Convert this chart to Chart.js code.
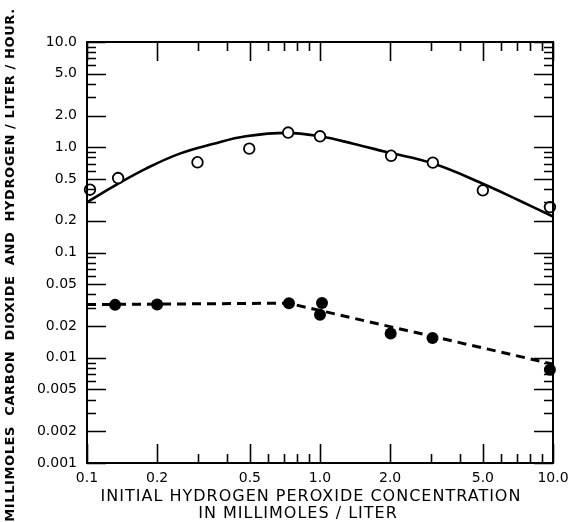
<!DOCTYPE html>
<html>
<head>
<meta charset="utf-8">
<script src="https://cdn.jsdelivr.net/npm/chart.js@4/dist/chart.umd.min.js"></script>
<style>
  html, body { margin: 0; padding: 0; background: #fff; }
  #wrap { width: 570px; height: 522px; position: relative; }
</style>
</head>
<body>
<div id="wrap"><canvas id="c" width="570" height="522"></canvas></div>
<script>
// ---- data ----
const xTickValues = [0.1, 0.2, 0.5, 1.0, 2.0, 5.0, 10.0];
const xTickLabels = ['0.1', '0.2', '0.5', '1.0', '2.0', '5.0', '10.0'];
const yTickValues = [0.001, 0.002, 0.005, 0.01, 0.02, 0.05, 0.1, 0.2, 0.5, 1.0, 2.0, 5.0, 10.0];
const yTickLabels = ['0.001', '0.002', '0.005', '0.01', '0.02', '0.05', '0.1', '0.2', '0.5', '1.0', '2.0', '5.0', '10.0'];

// open circles
const openX = [0.103, 0.136, 0.298, 0.497, 0.73, 1.0, 2.02, 3.05, 5.0, 9.7];
const openY = [0.395, 0.51, 0.72, 0.97, 1.38, 1.27, 0.83, 0.715, 0.39, 0.27];
// solid fitted curve
const curveX = [0.1, 0.13, 0.18, 0.25, 0.35, 0.48, 0.72, 1.0, 1.39, 1.93, 3.06, 5.0, 7.2, 10.0];
const curveY = [0.30, 0.425, 0.63, 0.87, 1.08, 1.27, 1.37, 1.27, 1.08, 0.90, 0.70, 0.45, 0.31, 0.22];
// filled circles
const filledX = [0.132, 0.20, 0.736, 1.02, 1.0, 2.01, 3.04, 9.7];
const filledY = [0.0318, 0.032, 0.0329, 0.0332, 0.0256, 0.0170, 0.0154, 0.0077];
// dashed line
const dashX = [0.1, 0.73, 10.0];
const dashY = [0.032, 0.033, 0.0087];

const xTitleLines = ['INITIAL HYDROGEN PEROXIDE CONCENTRATION', 'IN MILLIMOLES / LITER'];
const yTitle = 'MILLIMOLES  CARBON  DIOXIDE  AND  HYDROGEN / LITER / HOUR.';

// ---- helpers ----
function pts(xs, ys) { return xs.map((x, i) => ({ x: x, y: ys[i] })); }
function logMinor(min, max) {
  const out = [];
  for (let e = Math.round(Math.log10(min)); e < Math.round(Math.log10(max)); e++) {
    for (const m of [1, 2, 3, 4, 5, 6, 7, 8, 9]) out.push({ v: m * Math.pow(10, e), major: (m === 1 || m === 2 || m === 5) });
  }
  out.push({ v: max, major: true });
  return out;
}

const frame = {
  id: 'frame',
  afterDatasetsDraw(chart) {
    const { ctx, chartArea: a, scales } = chart;
    ctx.save();
    ctx.strokeStyle = '#000';
    ctx.lineWidth = 2;
    ctx.strokeRect(a.left, a.top, a.right - a.left, a.bottom - a.top);
    ctx.lineWidth = 1.6;
    ctx.beginPath();
    for (const t of logMinor(0.001, 10)) {
      const y = Math.round(scales.y.getPixelForValue(t.v)) + 0.5;
      const len = t.major ? 19 : 9;
      ctx.moveTo(a.left, y); ctx.lineTo(a.left + len, y);
      ctx.moveTo(a.right, y); ctx.lineTo(a.right - len, y);
    }
    for (const t of logMinor(0.1, 10)) {
      const x = Math.round(scales.x.getPixelForValue(t.v)) + 0.5;
      const len = t.major ? 19 : 9;
      ctx.moveTo(x, a.bottom); ctx.lineTo(x, a.bottom - len);
      ctx.moveTo(x, a.top); ctx.lineTo(x, a.top + len);
    }
    ctx.stroke();
    ctx.restore();
  },
  afterDraw(chart) {
    const { ctx } = chart;
    ctx.save();
    ctx.fillStyle = '#000';
    ctx.textAlign = 'center';
    ctx.textBaseline = 'middle';
    ctx.font = '16px "DejaVu Sans"';
    try { ctx.letterSpacing = '1px'; } catch (e) {}
    ctx.fillText(xTitleLines[0], 311, 497);
    ctx.fillText(xTitleLines[1], 298, 514);
    ctx.translate(11, 265);
    ctx.rotate(-Math.PI / 2);
    ctx.font = 'bold 13px "DejaVu Sans"';
    try { ctx.letterSpacing = '0.6px'; } catch (e) {}
    ctx.fillText(yTitle, 0, 0);
    ctx.restore();
  }
};

new Chart(document.getElementById('c'), {
  type: 'scatter',
  data: {
    datasets: [
      { data: pts(openX, openY), showLine: false, pointStyle: 'circle', pointRadius: 5.3, pointBackgroundColor: '#fff', pointBorderColor: '#000', pointBorderWidth: 1.8, order: 0, clip: false },
      { data: pts(filledX, filledY), showLine: false, pointStyle: 'circle', pointRadius: 6, pointBackgroundColor: '#000', pointBorderColor: '#000', pointBorderWidth: 0, order: 0, clip: false },
      { data: pts(curveX, curveY), showLine: true, tension: 0.4, borderColor: '#000', borderWidth: 2.6, pointRadius: 0, order: 1, clip: false },
      { data: pts(dashX, dashY), showLine: true, tension: 0, borderColor: '#000', borderWidth: 3, borderDash: [9, 6], pointRadius: 0, order: 1, clip: false }
    ]
  },
  options: {
    responsive: false,
    animation: false,
    events: [],
    layout: { padding: { top: 42, right: 17, left: 0, bottom: 0 } },
    plugins: { legend: { display: false }, tooltip: { enabled: false } },
    scales: {
      x: {
        type: 'logarithmic', min: 0.1, max: 10,
        afterBuildTicks: s => { s.ticks = xTickValues.map(v => ({ value: v })); },
        afterFit: s => { s.height = 59; s.paddingRight = 0; s.paddingLeft = 0; },
        grid: { display: false, drawTicks: false },
        border: { display: false },
        ticks: {
          autoSkip: false, maxRotation: 0, padding: 7, color: '#000',
          font: { family: 'DejaVu Sans', size: 14 },
          callback: (v, i) => xTickLabels[xTickValues.indexOf(v)] ?? ''
        }
      },
      y: {
        type: 'logarithmic', min: 0.001, max: 10,
        afterBuildTicks: s => { s.ticks = yTickValues.map(v => ({ value: v })); },
        afterFit: s => { s.width = 87; s.paddingTop = 0; s.paddingBottom = 0; },
        grid: { display: false, drawTicks: false },
        border: { display: false },
        ticks: {
          autoSkip: false, padding: 10, color: '#000',
          font: { family: 'DejaVu Sans', size: 14 },
          callback: (v, i) => yTickLabels[yTickValues.indexOf(v)] ?? ''
        }
      }
    }
  },
  plugins: [frame]
});
</script>
</body>
</html>
